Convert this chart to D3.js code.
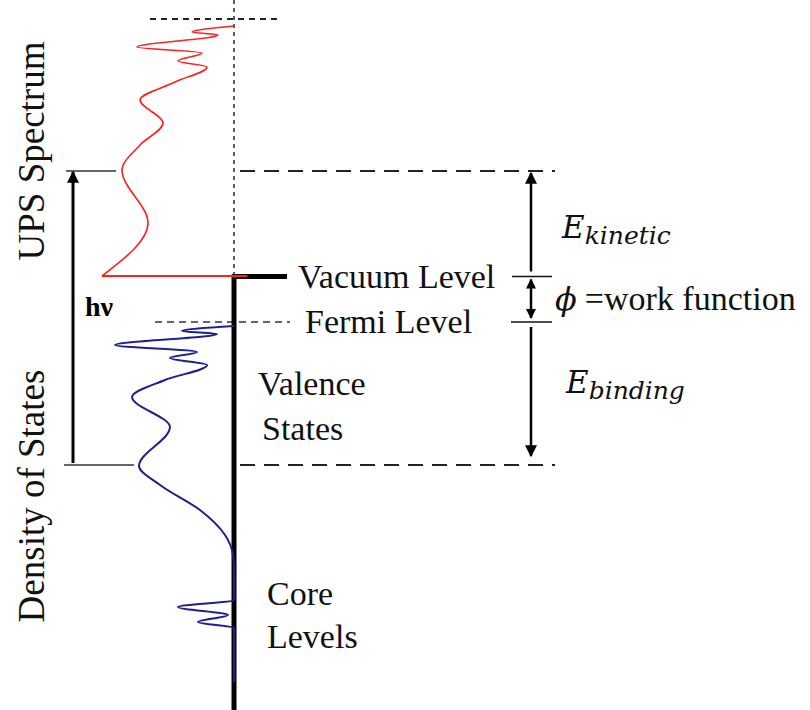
<!DOCTYPE html>
<html>
<head>
  <meta charset="utf-8">
  <title>UPS spectrum and density of states</title>
  <script src="https://cdn.jsdelivr.net/npm/d3@7"></script>
  <style>
    body { margin: 0; background: #fff; }
  </style>
</head>
<body>
<svg id="chart" width="810" height="710"></svg>
<script>
// energy levels (arbitrary energy units, Fermi level = 0)
var levelNames = ["cutoff", "hvTop", "vacuum", "fermi", "hvBottom"];
var levelEnergies = [30.3, 15.1, 4.55, 0, -14.3];

// UPS spectrum: energy, intensity
var upsEnergy    = [29.6, 29.0, 28.7, 27.5, 26.9, 26.1, 25.5, 24.0, 22.2, 19.9, 17.7, 15.2, 9.9, 4.6];
var upsIntensity = [0, 31.3, 11.9, 72.4, 23.9, 41.8, 20.1, 44.0, 70.1, 53.0, 70.1, 83.6, 64.2, 98.5];

// density of states (valence band + core levels)
var dosEnergy    = [-0.4, -0.9, -1.2, -2.3, -3.0, -3.6, -4.3, -5.8, -7.5, -10.5, -14.4, -16.3, -18.8, -21.3, -23.3, -24.5,
                    -27.8, -28.5, -29.3, -30.0, -30.6, -36.0];
var dosIntensity = [0, 38.8, 12.7, 88.8, 27.6, 47.8, 20.1, 51.5, 76.1, 47.8, 70.9, 55.2, 25.4, 6.7, 0.7, 0,
                    0, 41.8, 4.5, 26.9, 0, 0];

var SERIF = "Liberation Serif";
var MATH = "DejaVu Serif";

var level = {};
levelNames.forEach(function(n, i) { level[n] = levelEnergies[i]; });

var svg = d3.select("#chart");
var y = d3.scaleLinear().domain([32.2, -38.8]).range([0, 710]);
var x = d3.scaleLinear().domain([0, 100]).range([234, 100]);

var defs = svg.append("defs");
function marker(id, w, h) {
  defs.append("marker")
      .attr("id", id)
      .attr("viewBox", "0 0 10 10")
      .attr("refX", 9).attr("refY", 5)
      .attr("markerUnits", "userSpaceOnUse")
      .attr("markerWidth", w).attr("markerHeight", h)
      .attr("orient", "auto-start-reverse")
    .append("path")
      .attr("d", "M0,0 L10,5 L0,10 z")
      .attr("fill", "#000");
}
marker("arr", 15, 12);
marker("arrSmall", 11, 10);

function hline(x1, x2, e, w, dash, col) {
  svg.append("line")
      .attr("x1", x1).attr("x2", x2)
      .attr("y1", y(e)).attr("y2", y(e))
      .attr("stroke", col || "#222")
      .attr("stroke-width", w)
      .attr("stroke-dasharray", dash || null);
}

// guide lines
svg.append("line")
    .attr("x1", x(0)).attr("x2", x(0))
    .attr("y1", 0).attr("y2", y(level.vacuum))
    .attr("stroke", "#333").attr("stroke-width", 1.6)
    .attr("stroke-dasharray", "4,4");
hline(150, 282, level.cutoff, 1.8, "6,5");
hline(66, 116, level.hvTop, 1.6, null, "#333");
hline(240, 555, level.hvTop, 1.8, "15,9");
hline(64, 134, level.hvBottom, 1.6, null, "#333");
hline(240, 555, level.hvBottom, 1.8, "15,9");
hline(155, 290, level.fermi, 1.6, "7,5", "#333");
hline(512, 552, level.vacuum, 1.6, null, "#111");
hline(511, 552, level.fermi, 1.6, null, "#111");

// energy axis and vacuum level stub
svg.append("line")
    .attr("x1", x(0)).attr("x2", x(0))
    .attr("y1", y(level.vacuum) - 2).attr("y2", 710)
    .attr("stroke", "#000").attr("stroke-width", 5);
hline(x(0) - 2, 287, level.vacuum, 5, null, "#000");

// h nu arrow
svg.append("line")
    .attr("x1", 73).attr("x2", 73)
    .attr("y1", y(level.hvBottom) - 2).attr("y2", y(level.hvTop) + 1)
    .attr("stroke", "#000").attr("stroke-width", 3)
    .attr("marker-end", "url(#arr)");
svg.append("text")
    .attr("x", 85).attr("y", 316)
    .attr("font-family", SERIF)
    .attr("font-size", 28).attr("font-weight", "bold")
    .text("hν");

// right side energy arrows
var ax = 531;
svg.append("line")
    .attr("x1", ax).attr("x2", ax)
    .attr("y1", y(level.vacuum) - 5).attr("y2", y(level.hvTop) + 2)
    .attr("stroke", "#000").attr("stroke-width", 2.5)
    .attr("marker-end", "url(#arr)");
svg.append("line")
    .attr("x1", ax).attr("x2", ax)
    .attr("y1", y(level.vacuum) + 3).attr("y2", y(level.fermi) - 4)
    .attr("stroke", "#000").attr("stroke-width", 2.5)
    .attr("marker-start", "url(#arrSmall)")
    .attr("marker-end", "url(#arrSmall)");
svg.append("line")
    .attr("x1", ax).attr("x2", ax)
    .attr("y1", y(level.fermi) + 5).attr("y2", y(level.hvBottom) - 9)
    .attr("stroke", "#000").attr("stroke-width", 2.5)
    .attr("marker-end", "url(#arr)");

// spectra: intensity as a function of energy
var line = d3.line()
    .x(function(d) { return x(d[1]); })
    .y(function(d) { return y(d[0]); })
    .curve(d3.curveMonotoneY);
var straight = d3.line()
    .x(function(d) { return x(d[1]); })
    .y(function(d) { return y(d[0]); });

var ups = upsEnergy.map(function(e, i) { return [e, upsIntensity[i]]; });
var last = ups[ups.length - 1];
svg.append("path")
    .attr("d", line(ups))
    .attr("fill", "none").attr("stroke", "#ff2020").attr("stroke-width", 1.6);
svg.append("path")
    .attr("d", straight([last, [last[0], 0], [last[0], -10]]))
    .attr("fill", "none").attr("stroke", "#ff2020").attr("stroke-width", 1.8);

var dos = dosEnergy.map(function(e, i) { return [e, dosIntensity[i]]; });
svg.append("path")
    .attr("d", line(dos))
    .attr("fill", "none").attr("stroke", "#1f1f8f").attr("stroke-width", 2);

// labels
function label(t, px, py) {
  svg.append("text").attr("x", px).attr("y", py)
      .attr("font-family", SERIF).attr("font-size", 34)
      .attr("fill", "#111").text(t);
}
label("Vacuum Level", 298, 288);
label("Fermi Level", 305, 333);
label("Valence", 258, 395);
label("States", 262, 440);
label("Core", 267, 605);
label("Levels", 267, 648);

svg.append("text")
    .attr("transform", "translate(44,151) rotate(-90)")
    .attr("text-anchor", "middle")
    .attr("font-family", SERIF).attr("font-size", 37)
    .attr("fill", "#111").text("UPS Spectrum");
svg.append("text")
    .attr("transform", "translate(44,496) rotate(-90)")
    .attr("text-anchor", "middle")
    .attr("font-family", SERIF).attr("font-size", 37)
    .attr("fill", "#111").text("Density of States");

function mathLabel(sub, px, py) {
  var t = svg.append("text").attr("x", px).attr("y", py)
      .attr("font-family", MATH).attr("font-style", "italic").attr("fill", "#111");
  t.append("tspan").attr("font-size", 31).text("E");
  t.append("tspan").attr("dy", 6).attr("font-size", 25).text(sub);
}
mathLabel("kinetic", 562, 238);
mathLabel("binding", 566, 393);

var wf = svg.append("text").attr("x", 555).attr("y", 310).attr("fill", "#111");
wf.append("tspan").attr("font-family", MATH).attr("font-style", "italic")
    .attr("font-size", 32).text("ϕ");
wf.append("tspan").attr("dx", 8).attr("font-family", SERIF)
    .attr("font-size", 34).text("=work function");
</script>
</body>
</html>
